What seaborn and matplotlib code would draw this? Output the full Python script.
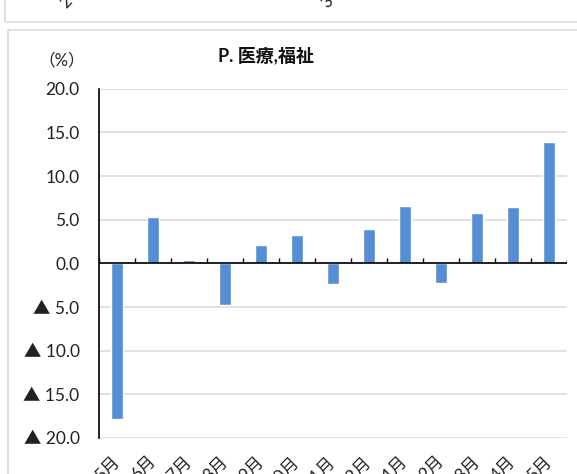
import numpy as np
import pandas as pd
import matplotlib
matplotlib.use("Agg")
import matplotlib.pyplot as plt
import seaborn as sns
from matplotlib.patches import Rectangle

# --- data ---
months = ["5月", "6月", "7月", "8月", "9月", "10月", "11月", "12月",
          "1月", "2月", "3月", "4月", "5月"]
values = [-17.8, 5.3, 0.4, -4.8, 2.1, 3.3, -2.4, 3.9, 6.6, -2.3, 5.8, 6.5, 13.9]
yticks = [20, 15, 10, 5, 0, -5, -10, -15, -20]

sns.set_style("white")
plt.rcParams['font.family'] = ['Lato', 'Noto Sans CJK JP', 'DejaVu Sans']

df = pd.DataFrame({"pos": np.arange(len(months)), "value": values})

fig = plt.figure(figsize=(5.77, 4.74), dpi=100)
ax = fig.add_axes([99 / 577, 1 - 438 / 474, 468 / 577, 349.3 / 474])

# --- chart frames (the upper one is a cut-off neighbour chart) ---
fig.patches.append(Rectangle((5 / 577, 1 - 22 / 474), 1.0, 0.2, transform=fig.transFigure,
                             fill=False, edgecolor="#d9d9d9", lw=1.2, zorder=0))
fig.patches.append(Rectangle((7.5 / 577, -0.1), 1.0, 1 - 30.5 / 474 + 0.1, transform=fig.transFigure,
                             fill=False, edgecolor="#d9d9d9", lw=1.2, zorder=0))
fig.text(75 / 577, 1 - 2 / 474, "2", rotation=45, ha="right", va="center", fontsize=12, color="#222222")
fig.text(336 / 577, 1 - 2 / 474, "3", rotation=45, ha="right", va="center", fontsize=12, color="#222222")

# --- bars ---
sns.barplot(data=df, x="pos", y="value", color="#558ed5", width=0.31,
            saturation=1, ax=ax, zorder=3)

ax.set_xlim(-0.5, len(months) - 0.5)
ax.set_ylim(-20, 20)
ax.set_yticks(yticks)
ax.set_yticklabels([f"{v:.1f}" if v >= 0 else f"▲ {abs(v):.1f}" for v in yticks])
ax.yaxis.grid(True, color="#d9d9d9", lw=1.1, zorder=0)
ax.set_axisbelow(True)

ax.set_xticks(np.arange(len(months)))
ax.set_xticklabels(months, rotation=45, ha="right", va="center", rotation_mode="anchor")
ax.tick_params(axis="x", length=0, pad=15, labelsize=12.5, colors="#222222")
ax.tick_params(axis="y", length=6, width=1, direction="out", color="#595959",
               pad=8, labelsize=12.5, labelcolor="#222222")

# zero line with category boundary ticks
ax.axhline(0, color="black", lw=1.2, zorder=4)
bounds = np.arange(len(months) + 1) - 0.5
ax.vlines(bounds, 0, 0.65, color="black", lw=1, zorder=4)

for side in ["top", "right", "bottom"]:
    ax.spines[side].set_visible(False)
ax.spines["left"].set_color("black")
ax.spines["left"].set_linewidth(1.2)
ax.set_xlabel("")
ax.set_ylabel("")

fig.text(266 / 577, 1 - 55 / 474, "P. 医療,福祉", ha="center", va="center",
         fontsize=13, fontweight="bold", color="#111111")
fig.text(62 / 577, 1 - 60 / 474, "（%）", ha="center", va="center",
         fontsize=12, color="#222222")

fig.savefig("out.png", dpi=100, facecolor="white")
